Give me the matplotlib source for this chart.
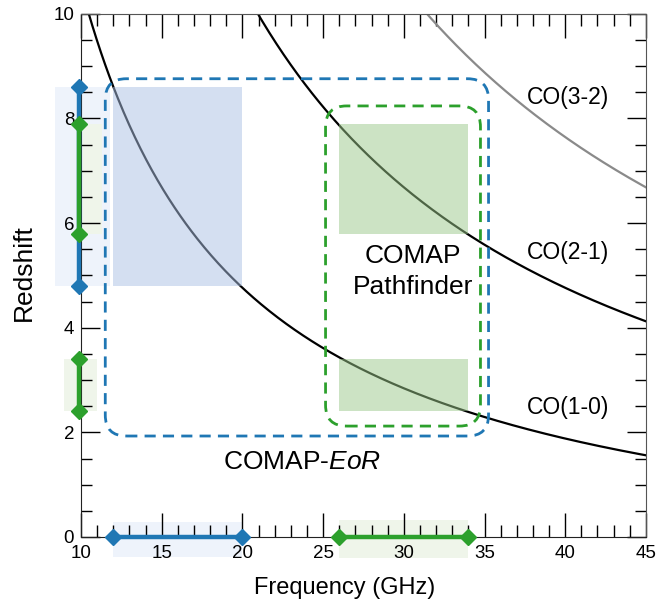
import numpy as np
import matplotlib
matplotlib.use('Agg')
import matplotlib.pyplot as plt
from matplotlib.patches import Rectangle, FancyBboxPatch

plt.rcParams['font.family'] = ['Liberation Sans', 'DejaVu Sans']
plt.rcParams['mathtext.fontset'] = 'custom'
plt.rcParams['mathtext.rm'] = 'Liberation Sans'
plt.rcParams['mathtext.it'] = 'Liberation Sans:italic'

# ── data ───────────────────────────────────────────────────────────────────
CO_LINES = ['CO(1-0)', 'CO(2-1)', 'CO(3-2)']
CO_REST_GHZ = [115.27, 230.54, 345.80]
CO_COLORS = ['black', 'black', '#8a8a8a']
CO_LABEL_POS = [(37.6, 2.47), (37.6, 5.43), (37.6, 8.41)]

EOR_BAND = (12.0, 20.0)          # GHz
EOR_Z = (4.8, 8.6)               # CO(1-0)
PF_BAND = (26.0, 34.0)           # GHz
PF_Z_CO21 = (5.8, 7.9)
PF_Z_CO10 = (2.4, 3.4)

EOR_BOX = (11.5, 1.93, 35.25, 8.76)   # x0, y0, x1, y1
PF_BOX = (25.15, 2.12, 34.75, 8.24)

BLUE = '#1f77b4'
GREEN = '#2ca02c'

fig = plt.figure(figsize=(6.7, 6.03), dpi=100)
ax = fig.add_axes([0.121, 0.1095, 0.843, 0.8675])
ax.set_xlim(10, 45)
ax.set_ylim(0, 10)

# redshift curves
nu = np.linspace(10, 45, 400)
for name, rest, col in zip(CO_LINES, CO_REST_GHZ, CO_COLORS):
    ax.plot(nu, rest / nu - 1, color=col, lw=1.6, zorder=2)
for name, (lx, ly) in zip(CO_LINES, CO_LABEL_POS):
    ax.text(lx, ly, name, fontsize=16.5, va='center', ha='left', zorder=5)

# filled regions
ax.add_patch(Rectangle((EOR_BAND[0], EOR_Z[0]), EOR_BAND[1] - EOR_BAND[0],
                       EOR_Z[1] - EOR_Z[0], facecolor='#aac0e4', alpha=0.5,
                       lw=0, zorder=3))
for z0, z1 in (PF_Z_CO21, PF_Z_CO10):
    ax.add_patch(Rectangle((PF_BAND[0], z0), PF_BAND[1] - PF_BAND[0], z1 - z0,
                           facecolor='#9bc98a', alpha=0.5, lw=0, zorder=3))

# dashed rounded boxes
aspect = (0.8675 * 603 / 10) / (0.843 * 670 / 35)
for (x0, y0, x1, y1), col in ((EOR_BOX, BLUE), (PF_BOX, GREEN)):
    ax.add_patch(FancyBboxPatch((x0, y0), x1 - x0, y1 - y0,
                                boxstyle='round,pad=0,rounding_size=1.3',
                                mutation_aspect=1 / aspect,
                                fill=False, edgecolor=col, lw=2,
                                linestyle=(0, (4, 2.6)), zorder=4))

# pale projection bands (outside axes)
band_kw = dict(lw=0, clip_on=False, zorder=0.5)
ax.add_patch(Rectangle((8.39, EOR_Z[0]), 3.4, EOR_Z[1] - EOR_Z[0],
                       facecolor='#eef3fb', **band_kw))
ax.add_patch(Rectangle((10.1, PF_Z_CO21[0]), 1.2, PF_Z_CO21[1] - PF_Z_CO21[0],
                       facecolor='#eff5ea', **band_kw))
ax.add_patch(Rectangle((8.95, PF_Z_CO10[0]), 2.05, PF_Z_CO10[1] - PF_Z_CO10[0],
                       facecolor='#eff5ea', **band_kw))
ax.add_patch(Rectangle((EOR_BAND[0], -0.38), EOR_BAND[1] - EOR_BAND[0], 0.67,
                       facecolor='#eef3fb', **band_kw))
ax.add_patch(Rectangle((PF_BAND[0], -0.40), PF_BAND[1] - PF_BAND[0], 0.73,
                       facecolor='#eff5ea', **band_kw))

# projected ranges on axes
line_kw = dict(lw=3.2, marker='D', ms=8, clip_on=False, zorder=6)
ax.plot([9.88, 9.88], EOR_Z, color=BLUE, **line_kw)
ax.plot([9.88, 9.88], PF_Z_CO21, color=GREEN, **line_kw)
ax.plot([9.88, 9.88], PF_Z_CO10, color=GREEN, **line_kw)
ax.plot(EOR_BAND, [0, 0], color=BLUE, **line_kw)
ax.plot(PF_BAND, [0, 0], color=GREEN, **line_kw)

# annotations
ax.text(30.55, 5.07, 'COMAP\nPathfinder', fontsize=19, ha='center',
        va='center', linespacing=1.35, zorder=5)
ax.text(23.7, 1.43, r'COMAP-$\mathit{EoR}$', fontsize=19, ha='center',
        va='center', zorder=5)

# axes styling
ax.set_xticks(np.arange(10, 46, 5))
ax.set_xticks(np.arange(10, 46, 1), minor=True)
ax.set_yticks(np.arange(0, 11, 2))
ax.set_yticks(np.arange(0, 10.1, 0.5), minor=True)
ax.tick_params(axis='x', which='major', direction='in', length=17, width=1,
               top=True, labelsize=13.5, pad=6)
ax.tick_params(axis='x', which='minor', direction='in', length=8.5, width=1,
               top=True)
ax.tick_params(axis='y', which='major', direction='in', length=14, width=1,
               right=True, labelsize=13.5, pad=5)
ax.tick_params(axis='y', which='minor', direction='in', length=8, width=1,
               right=True)
for side in ('left', 'bottom'):
    ax.spines[side].set_color('#222222')
for side in ('top', 'right'):
    ax.spines[side].set_color('#555555')

fig.text(344.5 / 670, 1 - 588 / 603, 'Frequency (GHz)', fontsize=17,
         ha='center', va='center')
fig.text(24 / 670, 1 - 273 / 603, 'Redshift', fontsize=19, rotation=90,
         ha='center', va='center')

fig.savefig('out.png', dpi=100)
